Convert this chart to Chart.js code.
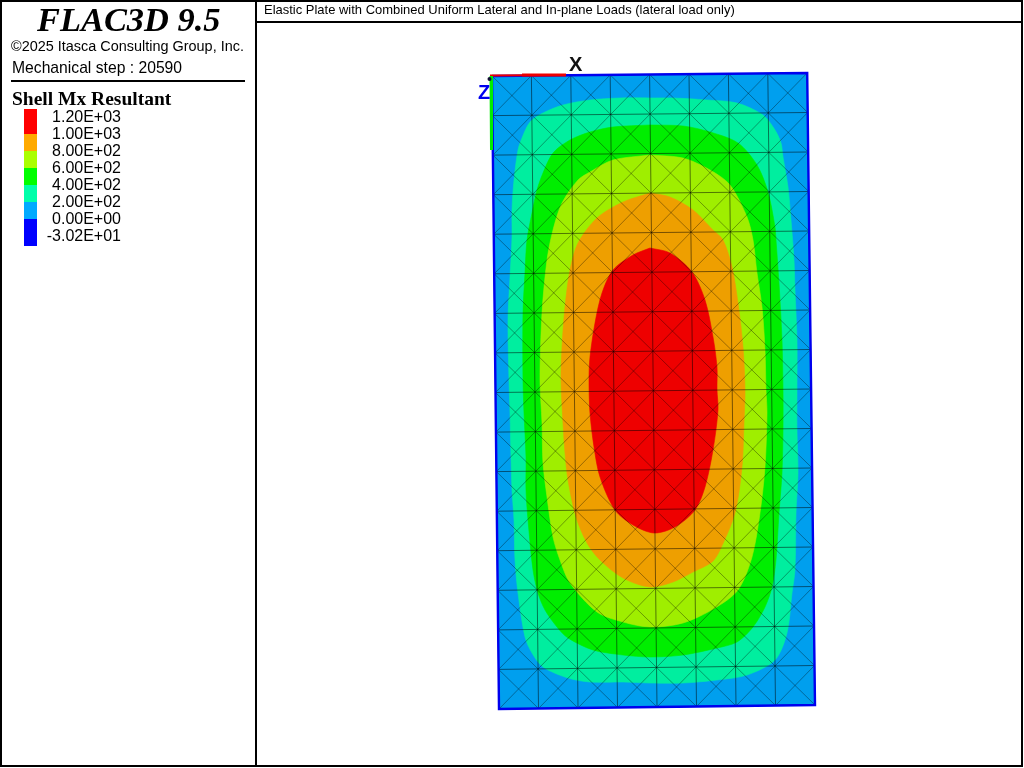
<!DOCTYPE html>
<html>
<head>
<meta charset="utf-8">
<title>FLAC3D 9.5 Shell Mx Resultant</title>
<script src="https://cdn.jsdelivr.net/npm/chart.js@4"></script>
<style>
html,body{margin:0;padding:0;background:#fff;overflow:hidden;width:1024px;height:768px}
canvas{position:absolute;left:0;top:0}
.t{position:absolute;white-space:nowrap;color:#000;font-family:"Liberation Sans",Arial,sans-serif;line-height:1}
.b{position:absolute;background:#000}
.s{position:absolute;left:24px;width:13px}
</style>
</head>
<body>
<canvas id="c" width="1024" height="768"></canvas>
<div id="ui"></div>
<script>
const legendLabels = ["1.20E+03","1.00E+03","8.00E+02","6.00E+02","4.00E+02","2.00E+02","0.00E+00","-3.02E+01"];
const legendColors = ["#ff0000","#ffaa00","#aaff00","#00ff00","#00ffaa","#00aaff","#0000ff"];
const bandColors = {sky:"#009fee",teal:"#00ee9f",green:"#00ee00",lime:"#9fee00",orange:"#ee9f00",red:"#ee0000",blue:"#0000ee"};

// Plate outline nodes, model units (x across, y down the plate)
const topEdge = [[0,0.1],[3.94,0.06],[7.88,0.03],[11.82,-0.01],[15.76,-0.05],[19.7,-0.09],[23.64,-0.12],[27.58,-0.16],[31.52,-0.2]];
const bottomEdge = [[0.7,63.4],[4.65,63.35],[8.6,63.3],[12.55,63.25],[16.5,63.2],[20.45,63.15],[24.4,63.1],[28.35,63.05],[32.3,63]];
const leftEdge = [[0,0.1],[0.04,4.06],[0.09,8.01],[0.13,11.97],[0.18,15.92],[0.22,19.88],[0.26,23.84],[0.31,27.79],[0.35,31.75],[0.39,35.71],[0.44,39.66],[0.48,43.62],[0.53,47.57],[0.57,51.53],[0.61,55.49],[0.66,59.44],[0.7,63.4]];
const rightEdge = [[31.52,-0.2],[31.57,3.75],[31.62,7.7],[31.67,11.65],[31.72,15.6],[31.76,19.55],[31.81,23.5],[31.86,27.45],[31.91,31.4],[31.96,35.35],[32.01,39.3],[32.06,43.25],[32.11,47.2],[32.15,51.15],[32.2,55.1],[32.25,59.05],[32.3,63]];

// Contour band outlines
const plateBand = [[0,0.1],[31.52,-0.2],[32.3,63],[0.7,63.4]];
const tealBand = [[15.8,2.3],[18.1,2.3],[21.5,2.5],[24.5,2.8],[27.1,4.0],[28.3,5.5],[28.9,6.8],[29.1,8.2],[29.6,11.2],[29.9,14.5],[30.2,18.5],[30.3,21.5],[30.5,26.5],[30.5,31.5],[30.5,35.5],[30.6,39.8],[30.4,43.8],[30.3,49.5],[30.0,51.8],[29.5,55.8],[28.3,58.5],[25.5,60.0],[22.5,60.5],[19.1,60.8],[15.8,60.8],[13.1,60.7],[9.8,60.7],[7.6,60.3],[5.1,59.2],[4.0,57.8],[3.3,56.2],[2.6,51.8],[2.3,48.5],[2.2,44.5],[2.0,41.5],[1.9,38.2],[1.8,33.8],[1.7,30.5],[1.6,24.5],[1.8,20.2],[2.0,16.2],[2.0,13.5],[2.2,10.5],[2.6,7.5],[3.0,6.3],[3.8,4.7],[5.1,3.8],[7.1,3.0],[9.8,2.5],[12.8,2.3]];
const greenBand = [[15.8,5.0],[19.1,5.1],[21.8,5.7],[24.6,6.8],[26.5,9.0],[27.6,11.7],[28.3,15.2],[28.4,16.5],[28.7,20.8],[29.0,26.5],[29.1,31.5],[29.1,35.5],[29.0,39.8],[28.7,43.8],[28.4,48.5],[28.0,51.2],[27.3,53.2],[26.1,55.2],[24.5,56.7],[22.5,57.3],[19.1,58.0],[15.8,58.2],[13.1,58.0],[10.1,57.5],[7.6,56.3],[6.5,55.2],[5.3,53.5],[4.6,51.8],[4.1,49.5],[3.6,44.5],[3.4,41.5],[3.4,38.2],[3.2,33.8],[3.1,30.5],[3.1,23.8],[3.3,19.8],[3.5,16.5],[4.0,13.8],[4.5,11.5],[5.1,9.8],[6.1,7.8],[7.8,6.5],[9.8,5.7],[12.1,5.2]];
const limeBand = [[15.8,8.0],[19.1,8.3],[21.8,9.5],[23.8,11.0],[25.5,14.2],[26.1,16.5],[26.5,19.8],[27.0,23.2],[27.3,27.5],[27.4,31.5],[27.5,33.8],[27.3,39.2],[26.8,43.8],[26.0,48.2],[24.6,51.5],[22.3,53.3],[19.1,54.8],[15.8,55.2],[13.1,54.7],[10.5,53.7],[7.8,50.8],[6.8,48.5],[6.1,46.2],[5.5,42.2],[5.1,38.8],[5.0,34.8],[4.8,30.5],[5.0,23.8],[5.5,18.5],[6.1,15.5],[7.0,12.8],[8.6,10.5],[9.8,9.7],[12.1,8.5]];
const orangeBand = [[15.8,11.8],[17.8,12.2],[20.1,13.5],[22.1,15.5],[23.1,16.5],[24.0,19.2],[24.6,22.8],[25.1,27.2],[25.3,31.5],[25.2,34.8],[25.0,39.2],[24.3,43.8],[22.8,47.5],[22.0,48.7],[20.1,49.7],[18.1,50.7],[15.8,51.2],[13.1,50.3],[10.8,48.5],[9.5,46.8],[8.4,44.2],[7.6,40.5],[7.3,37.8],[7.1,34.8],[6.9,30.5],[7.0,27.2],[7.3,23.2],[7.8,19.5],[8.6,16.8],[10.5,14.3],[13.1,12.7]];
const redBand = [[15.8,17.3],[17.8,17.8],[20.0,19.7],[21.3,22.5],[22.1,26.2],[22.5,29.2],[22.5,31.5],[22.6,33.5],[22.1,37.5],[21.3,41.2],[20.3,43.5],[18.3,45.2],[16.2,45.8],[14.1,45.0],[12.3,43.5],[10.8,40.2],[10.2,37.2],[9.8,33.8],[9.7,30.5],[9.8,28.2],[10.3,24.8],[11.0,21.8],[12.1,19.5],[14.1,18.0]];

// Axis triad
const xAxisLine = [[-0.2,0.05],[7.4,0]];
const xAxisHead = [[3,0],[7.4,0]];
const yAxisLine = [[-0.1,0.1],[-0.05,7.5]];
const originDot = [[-0.25,0.4]];

const pt = p => ({x:p[0], y:p[1]});
const loop = a => a.concat([a[0]]).map(pt);
const gap = {x:null, y:null};
const COLS = topEdge.length - 1, ROWS = leftEdge.length - 1;

function edgeNode(i, j){
  if (i === 0) return leftEdge[j];
  if (i === COLS) return rightEdge[j];
  if (j === 0) return topEdge[i];
  return bottomEdge[i];
}
const gridPts = [];
topEdge.forEach((p,i)=>gridPts.push(pt(p), pt(bottomEdge[i]), gap));
leftEdge.forEach((p,j)=>gridPts.push(pt(p), pt(rightEdge[j]), gap));

const diagPts = [];
function walk(i,j,di){
  let a=i,b=j;
  while (a+di>=0 && a+di<=COLS && b+1<=ROWS){ a+=di; b+=1; }
  if (a!==i || b!==j) diagPts.push(pt(edgeNode(i,j)), pt(edgeNode(a,b)), gap);
}
for (let j=0;j<ROWS;j++){ walk(0,j,1); walk(COLS,j,-1); }
for (let i=1;i<COLS;i++){ walk(i,0,1); walk(i,0,-1); }

const band = (data,color,t)=>({data:loop(data),showLine:true,fill:'shape',backgroundColor:color,borderColor:color,borderWidth:0.6,pointRadius:0,tension:t,clip:false});
const stroke = (data,color,w)=>({data:data,showLine:true,fill:false,borderColor:color,borderWidth:w,pointRadius:0,tension:0,spanGaps:false,clip:false});

const layers = [
  band(plateBand,bandColors.sky,0),
  band(tealBand,bandColors.teal,0.3),
  band(greenBand,bandColors.green,0.3),
  band(limeBand,bandColors.lime,0.3),
  band(orangeBand,bandColors.orange,0.3),
  band(redBand,bandColors.red,0.3),
  stroke(diagPts,"rgba(0,0,0,0.5)",0.7),
  stroke(gridPts,"rgba(0,0,0,0.5)",1),
  stroke(loop(plateBand),bandColors.blue,2.4),
  stroke(xAxisLine.map(pt),"#ee0000",2),
  stroke(xAxisHead.map(pt),"#ee0000",3),
  stroke(yAxisLine.map(pt),"#00ee00",3),
  {data:originDot.map(pt),showLine:false,pointRadius:2,pointBackgroundColor:"#111133",pointBorderWidth:0,clip:false}
];
layers.forEach((d,i)=>{ d.order = layers.length - i; });

new Chart(document.getElementById('c'),{
  type:'scatter',
  data:{datasets:layers},
  options:{
    responsive:false,animation:false,devicePixelRatio:1,events:[],
    layout:{padding:0,autoPadding:false},
    plugins:{legend:{display:false},tooltip:{enabled:false},title:{display:false}},
    scales:{
      x:{type:'linear',display:false,min:-49.2,max:53.2},
      y:{type:'linear',display:false,reverse:true,min:-7.5,max:69.3}
    }
  }
});

// Frame and text
const ui = document.getElementById('ui');
function bar(l,t,w,h){const d=document.createElement('div');d.className='b';d.style.cssText=`left:${l}px;top:${t}px;width:${w}px;height:${h}px`;ui.appendChild(d);}
function text(s,css){const d=document.createElement('div');d.className='t';d.textContent=s;d.style.cssText=css;ui.appendChild(d);return d;}
bar(0,0,1023,2);bar(0,765,1023,2);bar(0,0,2,767);bar(1021,0,2,767);bar(255,0,2,767);bar(257,21,766,2);bar(11,80,234,2);

text("FLAC3D 9.5","left:37px;top:2px;font:italic bold 34.4px/34px 'Liberation Serif',serif");
text("©2025 Itasca Consulting Group, Inc.","left:11px;top:38px;font-size:14.45px;line-height:16px");
text("Mechanical step : 20590","left:12px;top:59px;font-size:15.7px;line-height:18px");
text("Shell Mx Resultant","left:12px;top:90px;font:bold 19.5px/18px 'Liberation Serif',serif");
text("Elastic Plate with Combined Uniform Lateral and In-plane Loads (lateral load only)","left:264px;top:3px;font-size:12.97px;line-height:14px");
text("X","left:569px;top:54px;font-weight:bold;font-size:20px;line-height:20px;color:#111");
text("Z","left:478px;top:82px;font-weight:bold;font-size:20px;line-height:20px;color:#0000ee");

const swatchTops = [109,134,151,168,185,202,219], swatchBottom = 246;
legendColors.forEach((c,i)=>{
  const d=document.createElement('div');d.className='s';
  const end = i+1<swatchTops.length ? swatchTops[i+1] : swatchBottom;
  d.style.cssText=`top:${swatchTops[i]}px;height:${end-swatchTops[i]}px;background:${c}`;
  ui.appendChild(d);
});
legendLabels.forEach((s,i)=>{
  text(s,`right:${1024-121}px;top:${108+i*17}px;font-size:16px;line-height:18px`);
});
</script>
</body>
</html>
